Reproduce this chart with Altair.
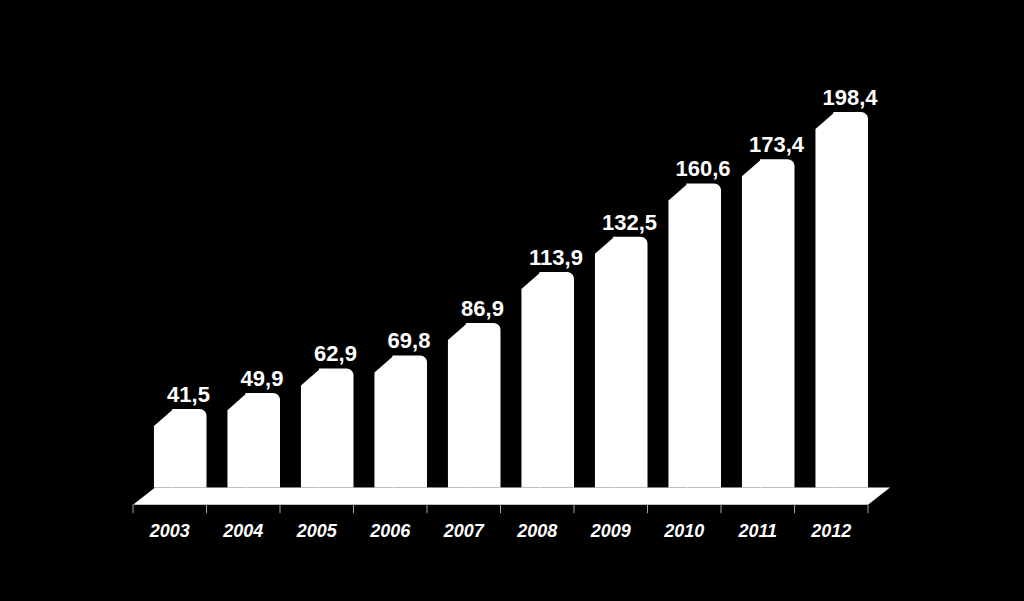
import altair as alt
import pandas as pd

years = ["2003", "2004", "2005", "2006", "2007", "2008", "2009", "2010", "2011", "2012"]
values = [41.5, 49.9, 62.9, 69.8, 86.9, 113.9, 132.5, 160.6, 173.4, 198.4]
labels = [f"{v:.1f}".replace(".", ",") for v in values]

# style constants (band-relative offsets)
BAR_L, SLANT_R, BAR_R = 0.285, 0.53, 1.0
SHOULDER = 9.0

df = pd.DataFrame({
    "year": years,
    "v": values,
    "label": labels,
    "i": list(range(len(years))),
})
df["bar_l"] = df["i"] + BAR_L
df["slant_r"] = df["i"] + SLANT_R
df["bar_r"] = df["i"] + BAR_R
df["label_x"] = df["i"] + 0.755
df["year_x"] = df["i"] + 0.5
df["base"] = 0.0
df["year_y"] = -23.2

# slanted top-left part of each bar (two points per bar)
slant = pd.concat([
    pd.DataFrame({"year": years, "x": df["bar_l"], "y": df["v"] - SHOULDER, "y2": 0.0}),
    pd.DataFrame({"year": years, "x": df["slant_r"] + 0.02, "y": df["v"], "y2": 0.0}),
])

n = len(years)
floor = pd.DataFrame({
    "x": [0, 0.3, n, n + 0.3],
    "y": [-9, 0, 0, 0],
    "y2": [-9, -9, -9, 0],
})
ticks = pd.DataFrame({"x": list(range(n + 1)), "y": -9.0, "y2": -13.5})

xs = alt.Scale(domain=[0, n], nice=False, zero=False)
ys = alt.Scale(domain=[-15, 220], nice=False, zero=False)

floor_layer = alt.Chart(floor).mark_area(color="white", interpolate="linear").encode(
    x=alt.X("x:Q", scale=xs, axis=None),
    y=alt.Y("y:Q", scale=ys, axis=None),
    y2="y2:Q",
)

tick_layer = alt.Chart(ticks).mark_rule(color="#a6a6a6", strokeWidth=1).encode(
    x=alt.X("x:Q", scale=xs, axis=None),
    y=alt.Y("y:Q", scale=ys, axis=None),
    y2="y2:Q",
)

slant_layer = alt.Chart(slant).mark_area(color="white", interpolate="linear").encode(
    x=alt.X("x:Q", scale=xs, axis=None),
    y=alt.Y("y:Q", scale=ys, axis=None),
    y2="y2:Q",
    detail="year:N",
)

bar_layer = alt.Chart(df).mark_bar(color="white", cornerRadiusTopRight=7).encode(
    x=alt.X("slant_r:Q", scale=xs, axis=None),
    x2="bar_r:Q",
    y=alt.Y("base:Q", scale=ys, axis=None),
    y2="v:Q",
)

value_text = alt.Chart(df).mark_text(
    color="white", font="Liberation Sans", fontWeight="bold", fontSize=22,
    baseline="alphabetic", dy=-7,
).encode(
    x=alt.X("label_x:Q", scale=xs, axis=None),
    y=alt.Y("v:Q", scale=ys, axis=None),
    text="label:N",
)

year_text = alt.Chart(df).mark_text(
    color="white", font="Liberation Sans", fontWeight="bold", fontStyle="italic",
    fontSize=18, baseline="middle",
).encode(
    x=alt.X("year_x:Q", scale=xs, axis=None),
    y=alt.Y("year_y:Q", scale=ys, axis=None),
    text="year:N",
)

chart = alt.layer(
    floor_layer, tick_layer, slant_layer, bar_layer, value_text, year_text
).properties(
    width=735, height=445,
    autosize=alt.AutoSizeParams(type="none"),
    padding={"left": 133, "top": 71, "right": 156, "bottom": 85},
    background="black",
).configure_view(stroke=None)

chart.save("out.html", embed_options={"renderer": "svg", "actions": False})
